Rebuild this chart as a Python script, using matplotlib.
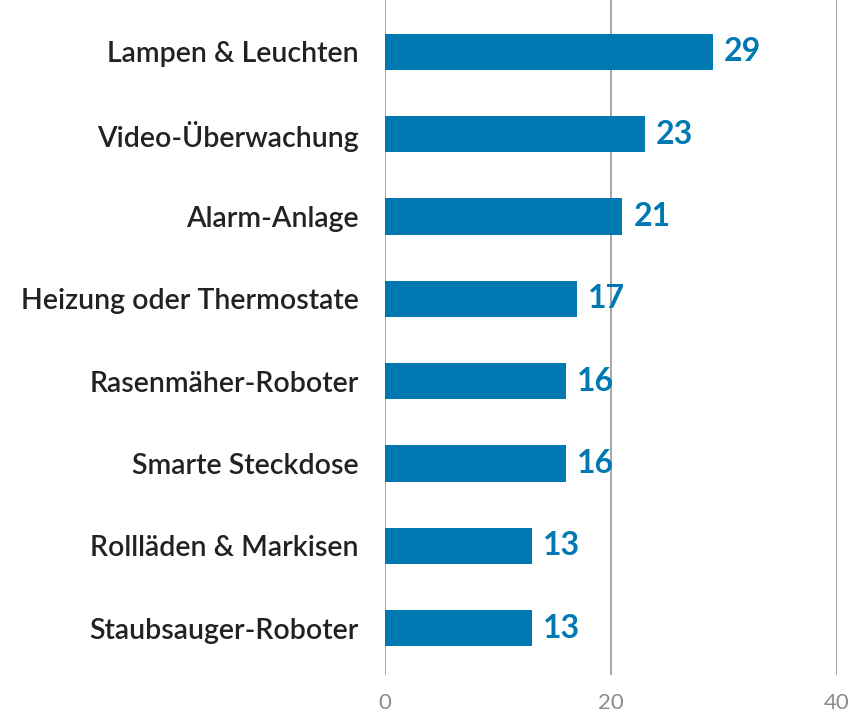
import matplotlib
matplotlib.use("Agg")
from matplotlib import pyplot as plt

categories = ["Lampen & Leuchten", "Video-Überwachung", "Alarm-Anlage",
              "Heizung oder Thermostate", "Rasenmäher-Roboter", "Smarte Steckdose",
              "Rollläden & Markisen", "Staubsauger-Roboter"]
values = [29, 23, 21, 17, 16, 16, 13, 13]
ticks = [0, 20, 40]

blue = "#0079b2"

fig = plt.figure(figsize=(8.64, 7.15), dpi=100)
ax = fig.add_axes([385 / 864, 1 - 675 / 715, (837 - 385) / 864, 675 / 715])

pos = list(range(len(categories)))
ax.barh(pos, values, height=0.44, color=blue, zorder=3)
for p, v in zip(pos, values):
    ax.text(v + 1.0, p, str(v), va="center", ha="left", color=blue,
            fontsize=23, fontweight="bold", family="Lato")

ax.set_xlim(0, 40)
ax.set_ylim(7.57, -0.63)
ax.set_xticks(ticks)
ax.set_xticklabels([str(t) for t in ticks], color="#8c8c8c", fontsize=16, family="Lato")
ax.set_yticks(pos)
ax.set_yticklabels(categories, fontsize=20.5, color="#222222", family="Lato", fontweight="semibold")
ax.tick_params(axis="both", length=0)
ax.tick_params(axis="x", pad=13)
ax.tick_params(axis="y", pad=19)
ax.xaxis.grid(True, color="#a0a0a0", linewidth=1.3, zorder=0)
for s in ax.spines.values():
    s.set_visible(False)

fig.savefig("out.png", dpi=100)
